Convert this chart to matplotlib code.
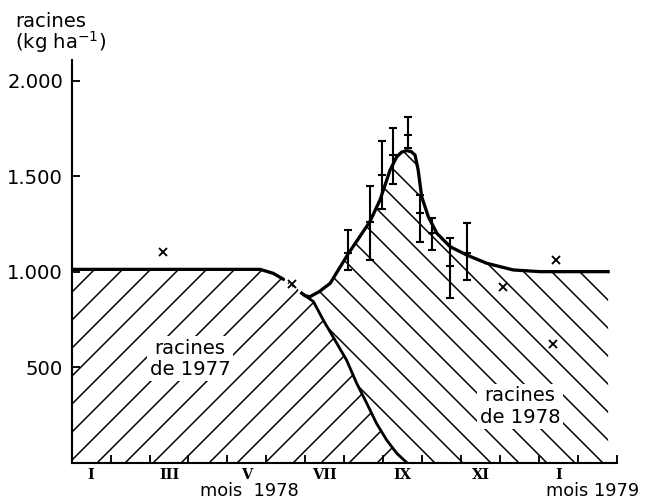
import numpy as np
import matplotlib
matplotlib.use("Agg")
import matplotlib.pyplot as plt

# ---------------- data (months since 1 Jan 1978, roots kg/ha) ----------------
months_upper77 = [0.0, 4.84, 5.18, 5.44]
roots77_upper = [1013, 1013, 992, 961]
months_gap77 = [5.44, 5.91]
roots_gap77 = [961, 888]
months_decl77 = [5.91, 6.21, 6.46, 6.76, 7.06, 7.32, 7.58, 7.83, 8.09, 8.35, 8.61]
roots77_decl = [888, 844, 748, 643, 538, 416, 311, 206, 119, 49, 0]

months_78 = [5.91, 6.0, 6.12, 6.35, 6.64, 7.11, 7.66, 7.92, 8.18, 8.35, 8.48,
             8.61, 8.72, 8.82, 8.90, 8.99, 9.16, 9.38, 9.72, 10.15, 10.66,
             11.34, 12.03, 13.78]
roots_78 = [888, 874, 870, 895, 940, 1097, 1263, 1377, 1534, 1603, 1628,
            1635, 1630, 1612, 1534, 1394, 1289, 1202, 1132, 1088, 1045,
            1010, 1001, 1001]

eb_months = [7.11, 7.66, 7.96, 8.25, 8.65, 8.95, 9.25, 9.72, 10.15]
eb_mean = [1097, 1263, 1508, 1612, 1717, 1307, 1205, 1031, 1097]
eb_low = [1010, 1062, 1328, 1460, 1649, 1158, 1115, 861, 957]
eb_high = [1219, 1450, 1687, 1752, 1813, 1403, 1281, 1176, 1254]

cross_months = [2.35, 5.65, 11.09, 12.44, 12.37]
cross_vals = [1105, 935, 919, 1062, 620]

month_ticks = list(range(1, 15))
label_pos = [0.5, 2.5, 4.5, 6.5, 8.5, 10.5, 12.5]
label_txt = ["I", "III", "V", "VII", "IX", "XI", "I"]
y_ticks = [500, 1000, 1500, 2000]
y_labels = ["500", "1.000", "1.500", "2.000"]

# ---------------- figure ----------------
DPI = 168
W, H = 648, 501
plt.rcParams['font.family'] = ['DejaVu Sans']
plt.rcParams['hatch.linewidth'] = 0.65
plt.rcParams['hatch.color'] = 'black'

fig = plt.figure(figsize=(W / DPI, H / DPI), dpi=DPI)
ax = fig.add_axes([71.7 / W, (H - 462.7) / H, 545 / W, 402.7 / H])
ax.set_xlim(0, 14)
ax.set_ylim(0, 2110)

# hatched region: roots 1977
x77 = [0.0] + months_upper77 + months_decl77 + [0.0]
y77 = [0] + roots77_upper + roots77_decl + [0]
ax.fill(x77, y77, facecolor='none', edgecolor='black', hatch='//', linewidth=0)

# hatched region: roots 1978
x78 = months_78 + [months_78[-1]] + months_decl77[::-1]
y78 = roots_78 + [0] + roots77_decl[::-1]
ax.fill(x78, y78, facecolor='none', edgecolor='black', hatch='\\\\', linewidth=0)

# curves
ax.plot(months_upper77, roots77_upper, color='black', lw=1.4, solid_capstyle='round')
ax.plot(months_gap77, roots_gap77, color='black', lw=0.6, ls=(0, (1, 3)))
ax.plot(months_decl77, roots77_decl, color='black', lw=1.2)
ax.plot(months_78, roots_78, color='black', lw=1.4, solid_joinstyle='round')

# error bars
yerr = [np.array(eb_mean) - np.array(eb_low), np.array(eb_high) - np.array(eb_mean)]
ax.errorbar(eb_months, eb_mean, yerr=yerr, fmt='_', color='black', ms=3.6, mew=0.9,
            elinewidth=0.9, capsize=1.8, capthick=0.9)

# crosses
ax.plot(cross_months, cross_vals, ls='none', marker='x', color='black', ms=3.4, mew=0.8)

# axes styling
for s in ['top', 'right']:
    ax.spines[s].set_visible(False)
for s in ['left', 'bottom']:
    ax.spines[s].set_linewidth(0.9)

ax.set_yticks(y_ticks)
ax.set_yticklabels(y_labels)
ax.tick_params(axis='y', direction='in', length=3.6, width=0.8, pad=3.7, labelsize=8.4)

ax.set_xticks(month_ticks)
ax.set_xticklabels([])
ax.set_xticks(label_pos, minor=True)
ax.set_xticklabels(label_txt, minor=True, fontfamily='DejaVu Serif', fontweight='bold',
                   fontsize=6.2)
ax.tick_params(axis='x', which='major', direction='in', length=3.6, width=0.8)
ax.tick_params(axis='x', which='minor', length=0, pad=2.4)

# texts
fig.text(15 / W, 1 - 26.7 / H, "racines", fontsize=8.4, va='baseline', ha='left')
fig.text(15 / W, 1 - 48.5 / H, "(kg ha$^{-1}$)", fontsize=8.4, va='baseline', ha='left')
box = dict(facecolor='white', edgecolor='none', pad=1.0)
ax.text(3.04, 545, "racines\nde 1977", fontsize=8.4, ha='center', va='center',
        linespacing=1.15, bbox=box)
ax.text(11.52, 295, "racines\nde 1978", fontsize=8.4, ha='center', va='center',
        linespacing=1.15, bbox=box)
fig.text(249 / W, 1 - 500.5 / H, "mois  1978", fontsize=7.6, ha='center', va='bottom')
fig.text(593 / W, 1 - 500.5 / H, "mois 1979", fontsize=7.6, ha='center', va='bottom')

fig.savefig("out.png", dpi=DPI)
